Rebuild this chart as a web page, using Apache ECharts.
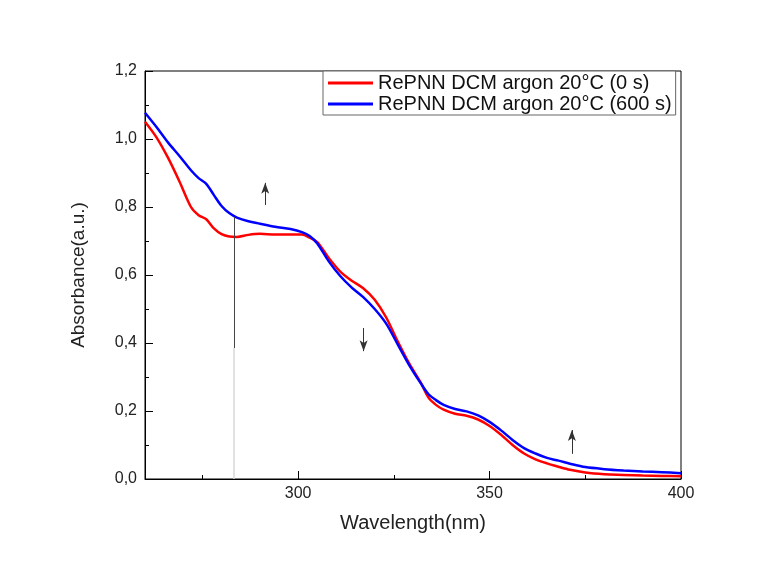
<!DOCTYPE html>
<html>
<head>
<meta charset="utf-8">
<script src="https://cdn.jsdelivr.net/npm/echarts@6/dist/echarts.min.js"></script>
<style>
html,body{margin:0;padding:0;background:#fff;}
#chart{width:773px;height:567px;}
</style>
</head>
<body>
<div id="chart"></div>
<script>
// Data
const wavelength = [260,263,266,269,272,274,276,278,280,282,284,287,290,294,298,301,303,305,308,311,314,317,320,323,326,329,332,334,336,338,341,344,347,350,353,356,359,362,365,368,371,375,380,385,390,395,400];
const absorb0s   = [1.051,1.005,0.945,0.875,0.800,0.776,0.764,0.737,0.720,0.713,0.712,0.718,0.721,0.719,0.719,0.719,0.710,0.697,0.650,0.610,0.583,0.561,0.527,0.475,0.405,0.340,0.284,0.240,0.218,0.204,0.192,0.186,0.175,0.156,0.130,0.100,0.075,0.058,0.046,0.036,0.027,0.019,0.014,0.012,0.010,0.009,0.008];
const absorb600s = [1.077,1.035,0.990,0.950,0.908,0.885,0.868,0.835,0.803,0.782,0.769,0.758,0.751,0.742,0.735,0.726,0.715,0.693,0.640,0.597,0.563,0.535,0.500,0.457,0.396,0.335,0.282,0.250,0.232,0.218,0.206,0.199,0.187,0.168,0.143,0.115,0.091,0.075,0.062,0.054,0.045,0.035,0.029,0.025,0.022,0.020,0.017];
const seriesNames = ['RePNN DCM argon 20°C (0 s)', 'RePNN DCM argon 20°C (600 s)'];
const xTickValues = [300, 350, 400];
const xMinorTickValues = [275, 325, 375];
// arrows: [wavelength, startAbs, endAbs]
const arrows = [[291.4, 0.806, 0.871], [317.1, 0.444, 0.376], [371.5, 0.074, 0.144]];
// vertical marker line: [wavelength, topAbs, midAbs, bottomAbs]
const markerLine = [283.3, 0.770, 0.385, 0.0];

const FONT = 'Liberation Sans, Arial, sans-serif';
const chart = echarts.init(document.getElementById('chart'));

const arrowLines = arrows.map(a => [{coord:[a[0], a[1]]}, {coord:[a[0], a[2]]}]);

chart.setOption({
  animation: false,
  backgroundColor: '#fff',
  grid: {left:145, right:92, top:71, bottom:88, show:true, borderColor:'#000', borderWidth:1, backgroundColor:'transparent'},
  legend: {
    orient:'vertical', left:323, top:71,
    padding:[2,4,1,5], itemGap:1, itemWidth:45, itemHeight:3, icon:'rect',
    backgroundColor:'#fff', borderColor:'#666', borderWidth:1, borderRadius:0,
    textStyle:{fontFamily:FONT, fontSize:20, color:'#111', lineHeight:20},
    data: seriesNames
  },
  xAxis: [{
    type:'value', min:260, max:400, position:'bottom',
    axisLine:{show:true, onZero:false, lineStyle:{color:'#000', width:1}},
    axisTick:{show:true, inside:true, length:8, customValues:xTickValues, lineStyle:{color:'#000'}},
    axisLabel:{customValues:xTickValues, fontFamily:FONT, fontSize:16, color:'#222', margin:7},
    splitLine:{show:false},
    name:'Wavelength(nm)', nameLocation:'middle', nameGap:34,
    nameTextStyle:{fontFamily:FONT, fontSize:20, color:'#222'}
  },{
    type:'value', min:260, max:400, position:'bottom',
    axisLine:{show:false},
    axisTick:{show:true, inside:true, length:4, customValues:xMinorTickValues, lineStyle:{color:'#000'}},
    axisLabel:{show:false, customValues:xMinorTickValues},
    splitLine:{show:false}
  }],
  yAxis: {
    type:'value', min:0, max:1.2, interval:0.2,
    axisLine:{show:true, lineStyle:{color:'#000', width:1}},
    axisTick:{show:true, inside:true, length:8, lineStyle:{color:'#000'}},
    minorTick:{show:true, splitNumber:2, length:4, lineStyle:{color:'#000'}},
    axisLabel:{fontFamily:FONT, fontSize:16, color:'#222', margin:8,
      formatter: v => v.toFixed(1).replace('.', ',')},
    splitLine:{show:false},
    name:'Absorbance(a.u.)', nameLocation:'middle', nameGap:57,
    nameTextStyle:{fontFamily:FONT, fontSize:19, color:'#222'}
  },
  series: [{
    name: seriesNames[0], type:'line', xAxisIndex:0,
    data: wavelength.map((w,i)=>[w, absorb0s[i]]),
    showSymbol:false, smooth:0.3,
    lineStyle:{color:'#ff0000', width:2.5}, itemStyle:{color:'#ff0000'},
    markLine:{
      silent:true, symbol:['none','none'], label:{show:false},
      data:[
        [{coord:[markerLine[0], markerLine[1]], lineStyle:{color:'#444', width:1, type:'solid'}}, {coord:[markerLine[0], markerLine[2]]}],
        [{coord:[markerLine[0], markerLine[2]], lineStyle:{color:'#d8d8d8', width:1.5, type:'solid'}}, {coord:[markerLine[0], markerLine[3]]}]
      ]
    }
  },{
    name: seriesNames[1], type:'line', xAxisIndex:0,
    data: wavelength.map((w,i)=>[w, absorb600s[i]]),
    showSymbol:false, smooth:0.3,
    lineStyle:{color:'#0000ff', width:2.5}, itemStyle:{color:'#0000ff'},
    markLine:{
      silent:true, symbol:['none','arrow'], symbolSize:[6,11], label:{show:false},
      lineStyle:{color:'#333', width:1, type:'solid'},
      data: arrowLines
    }
  }]
});
</script>
</body>
</html>
